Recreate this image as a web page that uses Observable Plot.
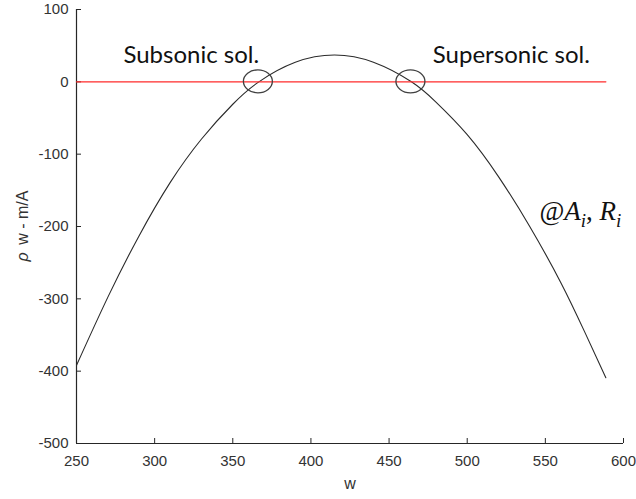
<!DOCTYPE html>
<html>
<head>
<meta charset="utf-8">
<script src="https://cdn.jsdelivr.net/npm/d3@7"></script>
<script src="https://cdn.jsdelivr.net/npm/@observablehq/plot@0.6"></script>
<style>
  html, body { margin: 0; padding: 0; background: #fff; }
  #chart svg { display: block; }
</style>
</head>
<body>
<div id="chart"></div>
<script>
// Velocity w sampled along the curve and the residual ρw − m/A at each.
const wValues = [250, 270, 290, 310, 330, 350, 366.7, 390, 415, 440, 464.3, 480, 500, 520, 540, 560, 575, 588.7];
const residual = [-392, -298, -213, -139, -79, -31, 0, 27, 37, 27, 0, -28, -73, -131, -200, -278, -345, -409];

// Reference level (zero) spanned over the sampled range.
const zeroLine = [{w: 250, v: 0}, {w: 588.7, v: 0}];

// The two roots: subsonic and supersonic solutions.
const roots = [366.7, 464.3];

// Axis ticks.
const xTicks = [250, 300, 350, 400, 450, 500, 550, 600];
const yTicks = [100, 0, -100, -200, -300, -400, -500];

const curve = wValues.map((w, i) => ({w, v: residual[i]}));

const axisColor = "#262626";
const tickFont = "'Liberation Sans', Arial, sans-serif";
const noteFont = "Lato, 'Open Sans', sans-serif";
const plain = (d) => String(d);

// Circles around the roots, the y-axis title and the "@A_i, R_i" label.
function annotations(index, scales, values, dims) {
  const g = d3.create("svg:g");
  for (const r of roots) {
    g.append("ellipse")
      .attr("cx", scales.x(r) - 0.5)
      .attr("cy", scales.y(0))
      .attr("rx", 14.5)
      .attr("ry", 11.5)
      .attr("fill", "none")
      .attr("stroke", "#404040")
      .attr("stroke-width", 1.3);
  }

  // y-axis title with an italic rho
  const cy = (dims.marginTop + dims.height - dims.marginBottom) / 2;
  const yt = g.append("text")
    .attr("transform", `translate(28,${cy}) rotate(-90)`)
    .attr("text-anchor", "middle")
    .attr("font-family", tickFont)
    .attr("font-size", 16)
    .attr("fill", "#333");
  yt.append("tspan").attr("font-style", "italic").text("ρ");
  yt.append("tspan").attr("dx", 3).text(" w - m/A");

  const t = g.append("text")
    .attr("x", scales.x(546.5))
    .attr("y", scales.y(-181) + 8)
    .attr("text-anchor", "start")
    .attr("font-family", "'Liberation Serif', 'DejaVu Serif', serif")
    .attr("font-size", 27)
    .attr("fill", "#111");
  t.append("tspan").text("@");
  t.append("tspan").attr("font-style", "italic").text("A");
  t.append("tspan").attr("font-style", "italic").attr("font-size", 19).attr("dy", 7).text("i");
  t.append("tspan").attr("dy", -7).text(", ");
  t.append("tspan").attr("font-style", "italic").text("R");
  t.append("tspan").attr("font-style", "italic").attr("font-size", 19).attr("dy", 7).text("i");
  return g.node();
}

const chart = Plot.plot({
  width: 636,
  height: 499,
  marginLeft: 76,
  marginRight: 13,
  marginTop: 9,
  marginBottom: 56,
  style: {background: "#fff", overflow: "visible"},
  x: {domain: [250, 600]},
  y: {domain: [-500, 100]},
  marks: [
    // tick labels
    Plot.axisX({ticks: xTicks, tickFormat: plain, tickSize: 0, tickPadding: 12, label: null,
      fontSize: 15, fontFamily: tickFont, color: "#333"}),
    Plot.axisY({ticks: yTicks, tickFormat: plain, tickSize: 0, tickPadding: 8, label: null,
      fontSize: 15, fontFamily: tickFont, color: "#333"}),
    // inward tick marks
    Plot.axisX({ticks: xTicks, tickSize: 5, dy: -5, text: null, label: null, stroke: axisColor}),
    Plot.axisY({ticks: yTicks, tickSize: 5, dx: 5, text: null, label: null, stroke: axisColor}),
    // axis lines
    Plot.ruleX([250], {stroke: axisColor, strokeWidth: 1.2}),
    Plot.ruleY([-500], {stroke: axisColor, strokeWidth: 1.2}),
    // x-axis title
    Plot.text(["w"], {frameAnchor: "bottom", dy: 45, fontSize: 16, fontFamily: tickFont, fill: "#333"}),
    // residual curve
    Plot.line(curve, {x: "w", y: "v", curve: "natural", stroke: "#2a2a2a", strokeWidth: 1.1}),
    // zero reference
    Plot.line(zeroLine, {x: "w", y: "v", stroke: "#ff2b2b", strokeWidth: 1.3}),
    // solution labels
    Plot.text(["Subsonic sol."], {x: 280, y: 37, textAnchor: "start", fontSize: 24,
      fontFamily: noteFont, fill: "#111"}),
    Plot.text(["Supersonic sol."], {x: 478, y: 37, textAnchor: "start", fontSize: 24,
      fontFamily: noteFont, fill: "#111"}),
    annotations
  ]
});

document.getElementById("chart").appendChild(chart);
</script>
</body>
</html>
